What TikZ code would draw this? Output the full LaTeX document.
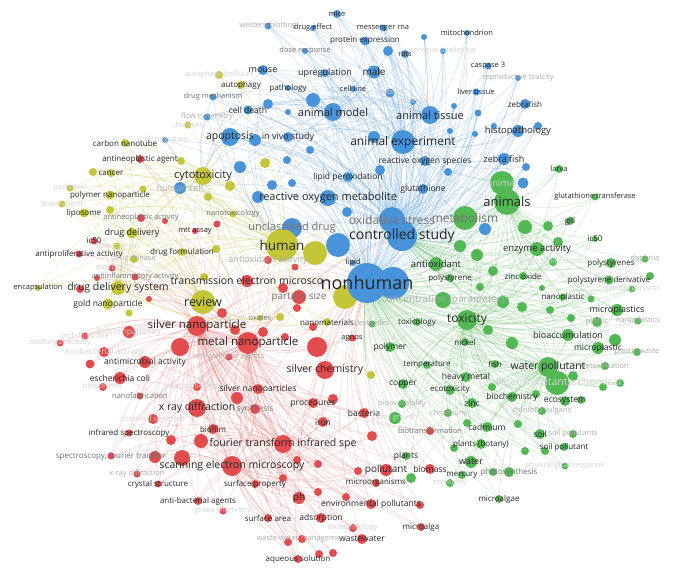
\documentclass[tikz,border=0pt]{standalone}
\usepackage{fontspec}
\setmainfont{Open Sans}
\pgfdeclarelayer{bgw}
\pgfdeclarelayer{edges}
\pgfdeclarelayer{fg}
\pgfsetlayers{bgw,edges,main,fg}
\definecolor{cB}{RGB}{72,148,218}
\definecolor{cR}{RGB}{226,76,76}
\definecolor{cG}{RGB}{82,184,82}
\definecolor{cY}{RGB}{196,198,56}
\colorlet{tA}{black!85}
\colorlet{tM}{black!55}
\colorlet{tL}{black!32}
\colorlet{tLL}{black!17}
\tikzset{
  dot/.style={circle,inner sep=0pt,draw=none},
  lab/.style={inner sep=0pt},
  eB/.style={draw=cB,opacity=.25,line width=.55pt},
  eR/.style={draw=cR,opacity=.22,line width=.55pt},
  eG/.style={draw=cG,opacity=.25,line width=.55pt},
  eY/.style={draw=cY,opacity=.28,line width=.55pt},
}
\newcommand\kw[8]{%
  \node[dot,minimum size={2*#4pt},fill=#5] (#1) at (#2,#3) {};%
  \begin{pgfonlayer}{fg}\node[lab,font=\fontsize{#6}{#6}\selectfont,text=#7] (l#1) at (#1.center) {#8};\end{pgfonlayer}}
\newcommand\ku[5]{\node[dot,minimum size={2*#4pt},fill=#5] (#1) at (#2,#3) {};}
\begin{document}
\begin{tikzpicture}[x=1pt,y=-1pt]
\begin{pgfonlayer}{bgw}
\fill[white] (0,0) rectangle (675,570);
\end{pgfonlayer}
\useasboundingbox (0,0) rectangle (675,570);
% ---------------- blue ----------------
\kw{mice}{337}{14}{4}{cB}{7.5}{tA}{mice}
\kw{wb}{268}{26}{3.5}{cB}{7.5}{tL}{western blotting}
\kw{deff}{313}{28}{3}{cB}{7.5}{tA}{drug effect}
\kw{mrna}{383}{28}{3.5}{cB}{7.5}{tA}{messenger rna}
\kw{pexp}{365}{41}{4.5}{cB}{8}{tA}{protein expression}
\kw{dose}{305}{51}{3}{cB}{7.5}{tM}{dose response}
\ku{ub1}{388}{51}{5}{cB}
\kw{rats}{405}{54}{4}{cB}{7.5}{tA}{rats}
\ku{ub2}{424}{37}{3}{cB}
\kw{mito}{467}{33}{3}{cB}{7.5}{tA}{mitochondrion}
\kw{sdr}{443}{51}{3}{cB}{7.5}{tLL}{sprague dawley rat}
\kw{casp}{488}{66}{3.5}{cB}{7.5}{tA}{caspase 3}
\kw{repro}{518}{78}{3}{cB}{7.5}{tL}{reproductive toxicity}
\kw{liver}{476}{92}{3.5}{cB}{7.5}{tA}{liver tissue}
\kw{zebrafish}{525}{104}{5}{cB}{8}{tA}{zebrafish}
\kw{histo}{518}{131}{6}{cB}{9.5}{tA}{histopathology}
\ku{ub3}{538}{126}{4}{cB}
\kw{zf}{504}{159}{6}{cB}{9}{tA}{zebra fish}
\ku{ub4}{526}{167}{4}{cB}
\ku{ub5}{523}{183}{5.5}{cB}
\ku{ub6}{478}{113}{3.5}{cB}
\ku{ub7}{454}{106}{3}{cB}
\ku{ub8}{494}{126}{3}{cB}
\ku{ub9}{475}{134}{3}{cB}
\ku{ub10}{450}{131}{3}{cB}
\kw{mouse}{263}{70}{5}{cB}{9}{tA}{mouse}
\kw{upreg}{325}{73}{4}{cB}{9}{tA}{upregulation}
\kw{male}{374}{72}{6.5}{cB}{10}{tA}{male}
\kw{path}{288}{88}{3}{cB}{8}{tA}{pathology}
\kw{cline}{353}{89}{3}{cB}{7.5}{tA}{cell line}
\kw{embryo}{390}{93}{4.5}{cB}{7.5}{tLL}{embryo}
\kw{genet}{413}{102}{3}{cB}{7.5}{tLL}{genetics}
\ku{ub11}{313}{100}{7}{cB}
\ku{ub12}{268}{104}{5}{cB}
\kw{cdeath}{248}{110}{4.5}{cB}{8.5}{tA}{cell death}
\kw{amodel}{333}{112}{9}{cB}{11}{tA}{animal model}
\kw{atissue}{430}{115}{9}{cB}{11}{tA}{animal tissue}
\ku{ub13}{288}{112}{3}{cB}
\kw{ap}{230}{137}{9}{cB}{10.5}{tA}{apoptosis}
\ku{ub14}{255}{140}{6}{cB}
\kw{invivo}{288}{137}{5}{cB}{9}{tA}{in vivo study}
\kw{aexp}{403}{142}{12}{cB}{12}{tA}{animal experiment}
\ku{ub15}{374}{137}{6}{cB}
\kw{ros}{425}{161}{5}{cB}{8.5}{tA}{reactive oxygen species}
\ku{ub16}{448}{172}{4}{cB}
\ku{ub17}{240}{167}{6}{cB}
\ku{ub18}{287}{160}{4}{cB}
\kw{lipidp}{348}{177}{5}{cB}{8.5}{tA}{lipid peroxidation}
\ku{ub19}{272}{185}{5}{cB}
\ku{ub20}{292}{183}{4}{cB}
\kw{glut}{423}{189}{5}{cB}{8.5}{tA}{glutathione}
\ku{ub24}{258}{197}{6}{cB}
\ku{ub25}{347}{212}{5}{cB}
\ku{ub26}{380}{170}{5}{cB}
\ku{ub27}{310}{150}{4}{cB}
\kw{rom}{328}{198}{8}{cB}{11}{tA}{reactive oxygen metabolite}
\kw{os}{392}{220}{13}{cB}{12}{tM}{oxidative stress}
\ku{ub21}{485}{229}{6}{cB}
\kw{cs}{402}{236}{15}{cB}{14}{tA}{controlled study}
\ku{ub22}{338}{245}{12}{cB}
\kw{ud}{292}{228}{10}{cB}{11}{tM}{unclassified drug}
\kw{hcell}{180}{188}{6}{cB}{9}{tL}{human cell}
\kw{cmig}{165}{140}{3}{cB}{7.5}{tLL}{cell migration}
\kw{flowc}{207}{117}{3.5}{cB}{7.5}{tL}{flow cytometry}
\kw{dmech}{213}{97}{3.5}{cB}{7.5}{tM}{drug mechanism}
% ---------------- yellow ----------------
\kw{autoc}{219}{75}{4}{cY}{7.5}{tLL}{autophagy (cellular)}
\kw{autoph}{241}{85}{4}{cY}{8}{tA}{autophagy}
\kw{disease}{188}{125}{3.5}{cY}{7.5}{tLL}{diseases}
\kw{cnt}{125}{143}{4}{cY}{8}{tA}{carbon nanotube}
\kw{aag}{140}{159}{4}{cR}{8}{tA}{antineoplastic agent}
\ku{uy1}{181}{161}{4}{cY}
\kw{cancer}{111}{173}{4}{cY}{8}{tA}{cancer}
\ku{uy2}{93}{172}{4}{cY}
\kw{cyto}{203}{176}{9}{cY}{11}{tA}{cytotoxicity}
\ku{uy3}{230}{186}{5}{cY}
\ku{uy4}{265}{163}{5}{cY}
\kw{nanotox}{233}{214}{3.5}{cY}{7.5}{tM}{nanotoxicology}
\ku{uy5}{208}{197}{4}{cY}
\kw{paclit}{70}{188}{3.5}{cY}{7.5}{tLL}{paclitaxel}
\kw{pnano}{110}{195}{4.5}{cY}{8}{tA}{polymer nanoparticle}
\ku{uy6}{143}{189}{3.5}{cY}
\kw{doxo}{62}{204}{3.5}{cY}{7.5}{tLL}{doxorubicin}
\kw{lipos}{84}{213}{4.5}{cY}{8}{tA}{liposome}
\ku{uy7}{110}{210}{4}{cY}
\kw{antiact}{141}{218}{4}{cR}{7.5}{tM}{antineoplastic activity}
\ku{ur1}{165}{221}{3}{cR}
\kw{ddel}{132}{233}{5.5}{cY}{9}{tA}{drug delivery}
\kw{mtt}{195}{231}{3}{cR}{7.5}{tA}{mtt assay}
\ku{ur2}{217}{224}{3.5}{cR}
\kw{ic50}{94}{241}{3.5}{cR}{8}{tA}{ic50}
\kw{ncar}{117}{246}{3.5}{cY}{7.5}{tLL}{nanocarrier}
\kw{antiprol}{79}{254}{3.5}{cR}{8}{tA}{antiproliferative activity}
\kw{dform}{182}{252}{4}{cY}{8}{tA}{drug formulation}
\ku{uy8}{216}{249}{4}{cY}
\kw{drel}{134}{259}{4}{cY}{7.5}{tL}{drug release}
\kw{querc}{112}{268}{3.5}{cR}{7.5}{tLL}{quercetin}
\ku{ur3}{97}{278}{3}{cR}
\kw{antiinf}{135}{277}{3.5}{cR}{7.5}{tM}{antiinflammatory activity}
\kw{encap}{38}{288}{3}{cY}{7.5}{tA}{encapsulation}
\ku{ur4}{80}{289}{4}{cR}
\kw{dds}{118}{288}{7}{cY}{10.5}{tA}{drug delivery system}
\ku{ur5}{149}{299}{3}{cR}
\kw{gnp}{108}{304}{5.5}{cY}{8.5}{tA}{gold nanoparticle}
\ku{uy9}{129}{313}{3.5}{cY}
\ku{uy10}{204}{277}{4}{cY}
\kw{review}{203}{302}{12}{cY}{12.5}{tA}{review}
\ku{uy13}{315}{253}{12}{cY}
\kw{hum}{282}{245}{16}{cY}{13.5}{tA}{human}
\ku{uy11}{280}{317}{4}{cY}
\kw{oxides}{260}{318}{3}{cY}{7.5}{tM}{oxides}
\kw{nanomat}{327}{322}{4}{cY}{8}{tA}{nanomaterials}
\ku{uy14}{371}{375}{4}{cY}
% ---------------- red ----------------
\kw{trem}{247}{281}{6}{cR}{10.5}{tA}{transmission electron microsco}
\ku{ur6}{222}{313}{5}{cR}
\kw{antioxact}{268}{260}{4}{cR}{9}{tL}{antioxidant activity}
\ku{ur7}{295}{267}{3.5}{cR}
\ku{ur8}{283}{288}{5}{cR}
\kw{psize}{299}{297}{7}{cR}{10}{tM}{particle size}
\ku{ur33}{297}{308}{4}{cR}
\ku{ur34}{313}{327}{4}{cR}
\ku{ur32}{285}{337}{4}{cR}
\ku{ur31}{263}{332}{5}{cR}
\ku{ur9}{235}{330}{5}{cR}
\kw{agnps}{352}{338}{3.5}{cR}{7.5}{tA}{agnps}
\ku{ur10}{180}{347}{9}{cR}
\kw{snp}{197}{326}{10}{cR}{11.5}{tA}{silver nanoparticle}
\ku{ur11}{317}{347}{10}{cR}
\kw{mnp}{248}{343}{11}{cR}{11.5}{tA}{metal nanoparticle}
\kw{biocomp}{129}{332}{6}{cR}{8.5}{tLL}{biocompatibility}
\kw{mcf7}{85}{336}{3.5}{cR}{7.5}{tLL}{mcf-7 cell line}
\kw{antifung}{60}{343}{3.5}{cR}{7.5}{tLL}{antifungal activity}
\kw{antibac}{104}{352}{5}{cR}{8.5}{tLL}{antibacterial activity}
\kw{antimic}{145}{362}{6}{cR}{8.5}{tA}{antimicrobial activity}
\ku{ur13}{90}{364}{4.5}{cR}
\kw{antiinfag}{229}{357}{3.5}{cR}{7.5}{tL}{anti-infective agents}
\kw{ecoli}{120}{378}{6}{cR}{8.5}{tA}{escherichia coli}
\kw{scm}{325}{370}{9}{cR}{10.5}{tA}{silver chemistry}
\kw{biopoly}{103}{387}{4}{cR}{7.5}{tLL}{biopolymer}
\kw{antibag}{197}{387}{4}{cR}{7.5}{tLL}{antibiotic agent}
\ku{ur35}{237}{398}{6}{cR}
\kw{snps}{258}{389}{5}{cR}{8.5}{tA}{silver nanoparticles}
\kw{nanofab}{140}{396}{3.5}{cR}{7.5}{tM}{nanofabrication}
\kw{xrd}{197}{408}{9}{cR}{10.5}{tA}{x ray diffraction}
\kw{synth}{255}{409}{5}{cR}{8.5}{tM}{synthesis}
\ku{ur26}{333}{399}{5}{cR}
\kw{proc}{313}{403}{5}{cR}{8.5}{tA}{procedures}
\kw{bacteria}{364}{413}{5}{cR}{8.5}{tA}{bacteria}
\kw{iron}{323}{422}{5}{cR}{8.5}{tA}{iron}
\kw{chemstr}{153}{419}{5}{cR}{7.5}{tLL}{chemical structure}
\kw{biofilm}{213}{429}{5}{cR}{8}{tA}{biofilm}
\kw{irspec}{129}{433}{3.5}{cR}{8}{tA}{infrared spectroscopy}
\ku{ur14}{171}{440}{5}{cR}
\ku{ur15}{201}{441}{7}{cR}
\kw{ftir}{283}{444}{9}{cR}{10.5}{tA}{fourier transform infrared spe}
\kw{specft}{111}{456}{3.5}{cR}{8}{tM}{spectroscopy, fourier transfor}
\ku{ur16}{155}{457}{6}{cR}
\ku{ur17}{182}{458}{8}{cR}
\kw{sem}{232}{466}{10}{cR}{10.5}{tA}{scanning electron microscopy}
\kw{xrd2}{137}{474}{3.5}{cR}{7.5}{tL}{x-ray diffraction}
\kw{crys}{158}{484}{3.5}{cR}{8}{tA}{crystal structure}
\kw{surfp}{255}{484}{4}{cR}{8}{tA}{surface property}
\ku{ur27}{318}{464}{4}{cR}
\ku{ur28}{297}{460}{4}{cR}
\ku{ur29}{283}{478}{4}{cR}
\ku{ur30}{318}{492}{4}{cR}
\kw{ph}{299}{498}{6}{cR}{10}{tA}{ph}
\kw{abag}{198}{501}{4}{cR}{8}{tA}{anti-bacterial agents}
\kw{greench}{223}{511}{3.5}{cR}{7.5}{tLL}{green chemistry}
\kw{surfa}{268}{518}{4}{cR}{8}{tA}{surface area}
\kw{ads}{321}{518}{5}{cR}{8.5}{tA}{adsorption}
\ku{ur18}{346}{497}{4}{cR}
\kw{envp}{371}{504}{5}{cR}{8.5}{tA}{environmental pollutants}
\ku{ur19}{420}{505}{4}{cR}
\kw{microorg}{376}{483}{4}{cR}{8}{tA}{microorganisms}
\ku{ur20}{358}{471}{4}{cR}
\kw{pollut}{386}{470}{6}{cR}{10}{tA}{pollutant}
\ku{ur25}{372}{436}{5}{cR}
\kw{biomass}{430}{469}{5}{cR}{8.5}{tA}{biomass}
\kw{microalga}{421}{527}{4}{cR}{8}{tA}{microalga}
\kw{biotech}{353}{528}{4}{cR}{7.5}{tLL}{biotechnology}
\kw{wastew}{362}{539}{5}{cR}{8.5}{tA}{wastewater}
\ku{ur21}{288}{542}{4}{cR}
\kw{wwm}{302}{539}{4}{cR}{7.5}{tL}{waste water management}
\kw{aqs}{298}{559}{4}{cR}{8}{tA}{aqueous solution}
\ku{ur22}{319}{554}{4}{cR}
\ku{ur23}{333}{553}{4}{cR}
\kw{biotrans}{430}{431}{4}{cR}{7.5}{tM}{biotransformation}
% ---------------- green ----------------
\kw{animal}{502}{183}{12}{cG}{9.5}{tLL}{animal}
\kw{animals}{507}{202}{13}{cG}{13}{tA}{animals}
\kw{metab}{465}{218}{12}{cG}{12}{tM}{metabolism}
\kw{larva}{559}{169}{4}{cG}{7.5}{tA}{larva}
\kw{gst}{595}{197}{3.5}{cG}{7.5}{tA}{glutathione transferase}
\kw{gill}{570}{221}{4}{cG}{8}{tA}{gill}
\kw{ic50g}{595}{239}{3}{cG}{8}{tA}{ic50}
\ku{ug22}{558}{242}{5}{cG}
\ku{ug21}{548}{226}{5}{cG}
\ku{ug23}{525}{227}{7}{cG}
\kw{enz}{537}{249}{7}{cG}{9.5}{tA}{enzyme activity}
\kw{ache}{553}{262}{4}{cG}{7.5}{tLL}{acetylcholinesterase}
\kw{pss}{611}{263}{5}{cG}{8}{tA}{polystyrenes}
\kw{daph}{645}{259}{3.5}{cG}{7.5}{tL}{daphnia}
\kw{psd}{609}{280}{4.5}{cG}{8}{tA}{polystyrene derivative}
\ku{ug17}{650}{276}{4}{cG}
\kw{microorgs}{632}{289}{3.5}{cG}{7.5}{tLL}{microorganisms}
\ku{ug31}{542}{288}{3}{cG}
\ku{ug32}{480}{287}{4}{cG}
\kw{nanopl}{563}{297}{3.5}{cG}{8}{tA}{nanoplastic}
\ku{ug16}{591}{299}{3.5}{cG}
\ku{ug26}{522}{307}{5}{cG}
\ku{ug28}{550}{310}{4}{cG}
\ku{ug29}{571}{318}{4}{cG}
\kw{mps}{617}{310}{6}{cG}{9}{tA}{microplastics}
\kw{plastic}{597}{322}{5}{cG}{7.5}{tL}{plastic}
\kw{nanopls}{638}{321}{3.5}{cG}{7.5}{tL}{nanoplastics}
\ku{ug30}{488}{330}{5}{cG}
\ku{ug13}{512}{343}{6}{cG}
\ku{ug14}{615}{340}{6}{cG}
\kw{bioacc}{568}{335}{6}{cG}{9}{tA}{bioaccumulation}
\kw{microp}{598}{348}{6}{cG}{8.5}{tA}{microplastic}
\kw{plw}{637}{352}{4}{cG}{7.5}{tL}{plastic waste}
\kw{detox}{605}{366}{4}{cG}{7.5}{tL}{detoxification}
\kw{fish}{495}{364}{4}{cG}{8}{tA}{fish}
\kw{nickel}{465}{342}{4}{cG}{8}{tA}{nickel}
\kw{wpc}{557}{383}{12}{cG}{10.5}{tLL}{water pollutants, chemical}
\kw{wp}{548}{367}{10}{cG}{10.5}{tA}{water pollutant}
\ku{ug6}{603}{387}{4}{cG}
\ku{ug7}{620}{383}{4}{cG}
\ku{ug8}{573}{376}{5}{cG}
\ku{ug9}{492}{387}{4}{cG}
\ku{ug10}{536}{394}{4}{cG}
\ku{ug11}{581}{400}{4}{cG}
\kw{temp}{427}{365}{4}{cG}{8}{tA}{temperature}
\kw{hmetal}{466}{377}{5}{cG}{8.5}{tA}{heavy metal}
\kw{copper}{403}{384}{5}{cG}{8.5}{tA}{copper}
\kw{ecotox}{450}{390}{5}{cG}{8}{tA}{ecotoxicity}
\kw{zinc}{472}{403}{5}{cG}{8.5}{tA}{zinc}
\kw{biochem}{512}{397}{5}{cG}{8.5}{tA}{biochemistry}
\kw{ecosys}{565}{401}{5}{cG}{8.5}{tA}{ecosystem}
\kw{chlor}{542}{411}{4}{cG}{7.5}{tL}{chlorella vulgaris}
\kw{chrom}{448}{413}{4}{cG}{7.5}{tL}{chromium}
\kw{cadm}{487}{427}{5}{cG}{8.5}{tA}{cadmium}
\ku{ug1}{518}{424}{4}{cG}
\ku{ug2}{467}{423}{4}{cG}
\kw{soil}{540}{434}{5}{cG}{8.5}{tA}{soil}
\kw{soilps}{573}{434}{4}{cG}{7.5}{tL}{soil pollutants}
\kw{soilp}{564}{447}{4}{cG}{8}{tA}{soil pollutant}
\ku{ug3}{525}{451}{4}{cG}
\ku{ug4}{545}{451}{4}{cG}
\kw{plbot}{481}{444}{5}{cG}{8}{tA}{plants (botany)}
\ku{ug5}{454}{448}{4}{cG}
\kw{water}{471}{462}{6}{cG}{9}{tA}{water}
\kw{physr}{565}{466}{3.5}{cG}{7.5}{tLL}{physiological response}
\ku{ug12}{493}{472}{4}{cG}
\kw{photo}{509}{472}{5}{cG}{8}{tM}{photosynthesis}
\kw{mercury}{462}{475}{4}{cG}{8}{tA}{mercury}
\kw{immun}{450}{483}{4}{cG}{7.5}{tLL}{immunity}
\kw{microalgae}{499}{499}{4}{cG}{8}{tA}{microalgae}
\kw{plants}{406}{456}{4}{cG}{8.5}{tA}{plants}
\ku{ug15}{411}{478}{5}{cG}
\kw{bioavail}{402}{404}{4}{cG}{7.5}{tL}{bioavailability}
\kw{plantg}{395}{418}{6}{cG}{7.5}{tLL}{plant growth}
\kw{pest}{372}{324}{3.5}{cG}{7.5}{tL}{pesticides}
\kw{toxlogy}{417}{322}{4}{cG}{8}{tA}{toxicology}
\kw{polymer}{390}{347}{5}{cG}{8.5}{tA}{polymer}
\kw{antiox}{436}{264}{7}{cG}{9.5}{tA}{antioxidant}
\ku{ug18}{493}{271}{5}{cG}
\ku{ug19}{477}{255}{6}{cG}
\ku{ug20}{460}{246}{6}{cG}
\ku{ug25}{503}{302}{6}{cG}
\kw{polyst}{450}{278}{4}{cG}{8}{tA}{polystyrene}
\kw{zno}{523}{276}{4}{cG}{8}{tA}{zinc oxide}
\kw{conc}{443}{300}{8}{cG}{10}{tL}{concentration (parameter)}
\kw{toxicity}{467}{320}{10}{cG}{12}{tA}{toxicity}
% big centre nodes last
\ku{uy12}{345}{297}{12}{cY}
\kw{nh}{367}{283}{20}{cB}{18}{tA}{nonhuman}
\ku{ub23}{393}{283}{16}{cB}
\kw{lipid}{353}{263}{3}{cB}{7.5}{tA}{lipid}
% ---------------- edges ----------------
\begin{pgfonlayer}{edges}
\foreach \a in {mice,wb,deff,mrna,pexp,dose,ub1,rats,ub2,mito,sdr,casp,repro,liver,zebrafish,histo,ub3,zf,ub4,ub5,ub6,ub7,ub8,ub9,ub10,mouse,upreg,male,path,cline,embryo,genet,ub11,ub12,cdeath,atissue,ub13,ap,invivo,ub14,ub15,ros,ub16,ub17,ub18,lipidp,ub19,ub20,glut,rom,ub21,ub22,ud,ub23,lipid,hcell,cmig,flowc,dmech,ub24,ub25,ub26,ub27}
  {\foreach \b in {nh,cs}{\draw[eB] (\a) to[bend left=18] (\b);}}
\foreach \a in {mice,wb,deff,mrna,pexp,dose,ub1,rats,ub2,mito,sdr,casp,repro,liver,zebrafish,histo,ub3,zf,ub4,ub5,ub6,ub7,ub8,ub9,ub10,mouse,upreg,male,path,cline,embryo,genet,ub11,ub12,cdeath,ap,invivo,ub14,ros,glut,ub16,ub21}
  {\foreach \b in {aexp,os}{\draw[eB] (\a) to[bend left=16] (\b);}}
\foreach \a in {mice,deff,mrna,pexp,dose,ub1,rats,mouse,upreg,male,path,cline,embryo,ub11,ub12,cdeath,ap,invivo,dmech,flowc,ub17,ub18,ub19,rom,lipidp}
  {\foreach \b in {amodel,atissue}{\draw[eB] (\a) to[bend left=14] (\b);}}
\foreach \a in {ap,cdeath,dmech,flowc,cmig,hcell,ub17,ub14,mouse}
  {\foreach \b in {cyto,hum}{\draw[eB] (\a) to[bend right=14] (\b);}}
\foreach \a/\b in {nh/cs,nh/aexp,cs/aexp,amodel/aexp,os/nh,os/cs,amodel/nh,amodel/cs,os/aexp,atissue/cs,atissue/nh,ap/os,amodel/rom,os/rom,ub22/nh,ud/cs,rom/cs}
  {\draw[eB] (\a) to[bend left=14] (\b);}
\foreach \a in {trem,ur6,antioxact,ur7,psize,ur8,ur33,ur34,ur32,ur31,ur9,agnps,ur10,ur11,biocomp,mcf7,antifung,antibac,antimic,ur13,antiinfag,ecoli,scm,biopoly,antibag,ur35,snps,nanofab,xrd,synth,ur26,proc,bacteria,iron,chemstr,biofilm,irspec,ur14,ur15,ftir,specft,ur16,ur17,xrd2,crys,surfp,ur27,ur28,ur29,ur30,ph,abag,greench,surfa,ads,ur18,envp,ur19,microorg,ur20,pollut,ur25,biomass,microalga,biotech,wastew,ur21,wwm,aqs,ur22,ur23,biotrans,aag,antiact,ur1,mtt,ur2,ic50,antiprol,querc,ur3,antiinf,ur4,ur5}
  {\foreach \b in {mnp,snp}{\draw[eR] (\a) to[bend left=18] (\b);}}
\foreach \a in {xrd,synth,ur26,proc,bacteria,iron,chemstr,biofilm,irspec,ur14,ur15,specft,ur16,ur17,xrd2,crys,surfp,ur27,ur28,ur29,ur30,ph,abag,greench,surfa,ads,ur18,envp,microorg,ur20,pollut,ur25,wwm,aqs,ur21,ecoli,antimic,snps,ur35}
  {\foreach \b in {sem,ftir}{\draw[eR] (\a) to[bend left=16] (\b);}}
\foreach \a in {pollut,envp,wastew,microalga,aqs,ads,ph,biomass,bacteria,iron,proc,microorg,scm,agnps,psize,trem,ur11,mnp,snp,biotrans,ur19,ur25,ftir,sem,antioxact,ur7,ur8}
  {\draw[eR] (\a) to[bend left=18] (nh);}
\foreach \a/\b in {mnp/snp,sem/mnp,sem/snp,ftir/mnp,ftir/snp,mnp/cs,psize/cs,trem/cs,scm/mnp}
  {\draw[eR] (\a) to[bend left=14] (\b);}
\foreach \a in {larva,gst,gill,ic50g,ug22,ug21,ug23,enz,ache,pss,daph,psd,ug17,microorgs,ug31,ug32,nanopl,ug16,ug26,ug28,ug29,mps,plastic,nanopls,ug30,ug13,ug14,bioacc,microp,plw,detox,fish,nickel,wpc,ug6,ug7,ug8,ug9,ug10,ug11,temp,hmetal,copper,ecotox,zinc,biochem,ecosys,chlor,chrom,cadm,ug1,ug2,soil,soilps,soilp,ug3,ug4,plbot,ug5,water,physr,ug12,photo,mercury,immun,microalgae,plants,ug15,bioavail,plantg,pest,toxlogy,polymer,antiox,ug18,ug19,ug20,ug25,polyst,zno,conc,animal,metab}
  {\foreach \b in {toxicity,nh}{\draw[eG] (\a) to[bend left=18] (\b);}}
\foreach \a in {larva,gst,gill,ic50g,ug22,ug21,ug23,enz,ache,pss,daph,psd,ug17,microorgs,ug31,nanopl,ug16,mps,plastic,nanopls,antiox,ug18,ug19,ug20,ug25,polyst,zno,conc,bioacc,microp,ug14,zf,metab,animal,ug32}
  {\foreach \b in {animals,cs}{\draw[eG] (\a) to[bend left=16] (\b);}}
\foreach \a in {ug13,ug14,microp,plw,detox,fish,nickel,ug6,ug7,ug8,ug9,ug10,ug11,temp,hmetal,copper,ecotox,zinc,biochem,ecosys,chlor,chrom,cadm,ug1,ug2,soil,soilps,soilp,ug3,ug4,plbot,ug5,water,physr,ug12,photo,mercury,immun,microalgae,plants,ug15,bioavail,plantg,toxlogy,polymer,wpc,bioacc,mps,plastic,nanopl,ug26,ug28,ug29,ug30}
  {\draw[eG] (\a) to[bend left=16] (wp);}
\foreach \a/\b in {toxicity/cs,animals/cs,animals/nh,animals/aexp,metab/cs,metab/nh,wp/nh,wp/toxicity,animals/toxicity,wp/animals,metab/animals,wp/cs,animal/aexp,metab/os,toxicity/animals}
  {\draw[eG] (\a) to[bend left=14] (\b);}
\foreach \a in {autoc,autoph,disease,cnt,uy1,cancer,uy2,uy3,uy4,nanotox,uy5,paclit,pnano,uy6,doxo,lipos,uy7,ddel,ncar,dform,uy8,drel,encap,dds,gnp,uy9,uy10,oxides,uy11,nanomat,uy12,uy13,uy14}
  {\foreach \b in {hum,cyto}{\draw[eY] (\a) to[bend left=18] (\b);}}
\foreach \a in {cnt,cancer,uy2,paclit,pnano,uy6,doxo,lipos,uy7,ddel,ncar,dform,drel,encap,gnp,uy9,uy10,oxides,uy11,nanomat}
  {\foreach \b in {review,dds}{\draw[eY] (\a) to[bend left=16] (\b);}}
\foreach \a/\b in {hum/nh,hum/cs,cyto/hum,review/hum,review/nh,dds/hum,dds/review,cyto/review,review/mnp,hum/mnp,cyto/nh,uy12/nh,uy13/cs,review/snp,uy12/mnp,cyto/ap}
  {\draw[eY] (\a) to[bend left=14] (\b);}
\end{pgfonlayer}
\end{tikzpicture}
\end{document}
